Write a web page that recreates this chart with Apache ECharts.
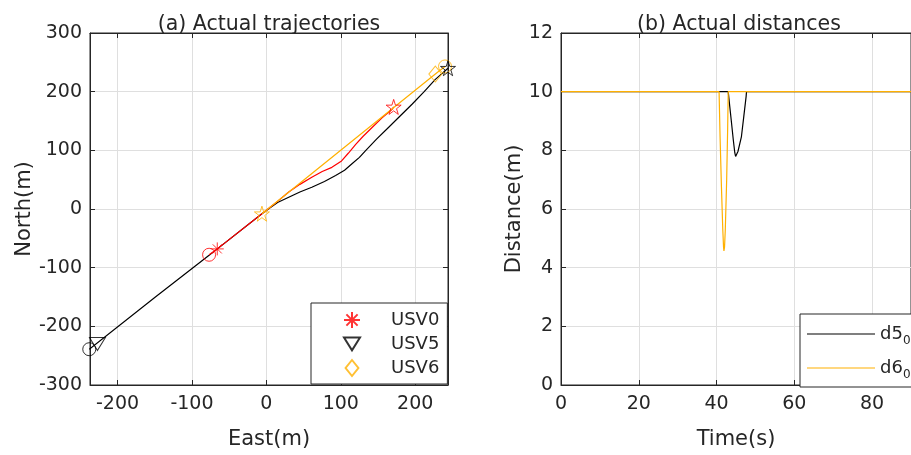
<!DOCTYPE html>
<html>
<head>
<meta charset="utf-8">
<script src="https://cdn.jsdelivr.net/npm/echarts@6/dist/echarts.min.js"></script>
<style>
  html, body { margin: 0; padding: 0; background: #fff; }
  #main { width: 911px; height: 455px; }
</style>
</head>
<body>
<div id="main"></div>
<script>
// (a) trajectories, points are [East, North] in m
var path5 = [[-238,-239],[-150,-151],[-77,-79],[-6,-8],[5,2],[15,11],[30,20],[45,29],[61,37],[78,47],[93,57],[105,66],[115,77],[125,88],[133,99],[148,119],[164,139],[180,159],[196,179],[212,200],[227,221],[244,240]];
var path0 = [[-77,-78],[-66,-68],[-6,-8],[5,3],[15,13],[30,29],[45,42],[61,54],[75,64],[88,71],[101,82],[110,95],[120,110],[130,124],[142,139],[155,155],[169,170],[171,174]];
var path6 = [[240,243],[227,230],[-6,-8]];

var startPts = { USV0: [-77,-78], USV5: [-238,-239], USV6: [240,243] };
var endPts   = { USV0: [171,174], USV5: [244,240], USV6: [-6,-8] };
var markPts  = { USV0: [-66,-68], USV5: [-227,-230], USV6: [227,230] };

// (b) distances
var t5 = [0, 40.7, 43.0, 43.4, 43.85, 44.3, 44.7, 44.9, 45.2, 45.5, 46.4, 47.0, 47.6, 47.7, 90];
var d5 = [10, 10, 10, 9.49, 8.93, 8.36, 7.91, 7.79, 7.84, 7.96, 8.47, 9.15, 9.83, 10, 10];
var t6 = [0, 40.65, 40.9, 41.25, 41.6, 41.8, 41.9, 42.05, 42.25, 42.6, 42.85, 43.0, 90];
var d6 = [10, 10, 8.48, 6.78, 5.3, 4.7, 4.57, 4.7, 5.3, 7.0, 8.7, 10, 10];

var colors = { USV0: '#ff0000', USV5: '#000000', USV6: '#ffb000' };
var ink = '#262626';
var gridCol = '#dfdfdf';
var font = 'DejaVu Sans';

var starPath = 'path://M0,-1L0.2245,-0.309L0.951,-0.309L0.363,0.118L0.588,0.809L0,0.382L-0.588,0.809L-0.363,0.118L-0.951,-0.309L-0.2245,-0.309Z';
var asteriskPath = 'path://M0,-1L0,1M-1,0L1,0M-0.7,-0.7L0.7,0.7M-0.7,0.7L0.7,-0.7';
var triDownPath = 'path://M-1,-0.8L1,-0.8L0,0.8Z';
var diamondPath = 'path://M0,-1L0.8,0L0,1L-0.8,0Z';

function zip(a, b) {
  return a.map(function (v, i) { return [v, b[i]]; });
}

function hollow(c) {
  return { color: 'rgba(0,0,0,0)', borderColor: c, borderWidth: 1 };
}

function mainAxis(grid, min, max, interval, name, gap) {
  var ax = {
    type: 'value', gridIndex: grid, min: min, max: max,
    name: name, nameLocation: 'middle', nameGap: gap,
    nameTextStyle: { color: ink, fontSize: 21, fontFamily: font },
    axisLine: { show: true, onZero: false, lineStyle: { color: ink, width: 1 } },
    axisTick: { show: true, inside: true, length: 5, lineStyle: { color: ink } },
    axisLabel: { color: ink, fontSize: 19, fontFamily: font, margin: 10, showMinLabel: false, showMaxLabel: false },
    splitLine: { show: true, lineStyle: { color: gridCol, width: 1 } }
  };
  if (interval) ax.interval = interval;
  return ax;
}

function mirror(grid, pos, min, max, interval) {
  var ax = {
    type: 'value', gridIndex: grid, position: pos, min: min, max: max,
    axisLine: { show: true, onZero: false, lineStyle: { color: ink, width: 1 } },
    axisTick: { show: true, inside: true, length: 5, lineStyle: { color: ink } },
    axisLabel: { show: false },
    splitLine: { show: false }
  };
  if (interval) ax.interval = interval;
  return ax;
}

var leftX = mainAxis(0, -237, 244, null, 'East(m)', 44);
var leftY = mainAxis(0, -300, 300, 100, 'North(m)', 50);
leftY.axisLabel.showMinLabel = true;
leftY.axisLabel.showMaxLabel = true;
leftY.axisLabel.margin = 8;
var rightY = mainAxis(1, 0, 12, 2, 'Distance(m)', 34);
rightY.axisLabel.showMinLabel = true;
rightY.axisLabel.showMaxLabel = true;
rightY.axisLabel.margin = 8;
var rightX = mainAxis(1, 0, 90, 20, 'Time(s)', 44);
rightX.axisLabel.showMinLabel = true;

var series = [];
// trajectory lines: black, red, orange (orange on top)
[['USV5', path5], ['USV0', path0], ['USV6', path6]].forEach(function (p) {
  series.push({
    type: 'line', name: p[0] + ' path', xAxisIndex: 0, yAxisIndex: 0,
    data: p[1], symbol: 'none', lineStyle: { color: colors[p[0]], width: 1.2 },
    silent: true, z: 2
  });
});
['USV0', 'USV5', 'USV6'].forEach(function (k) {
  series.push({
    type: 'scatter', name: k + ' start', xAxisIndex: 0, yAxisIndex: 0, clip: false,
    data: [startPts[k]], symbol: 'circle', symbolSize: 13, itemStyle: hollow(colors[k]), z: 3
  });
});
['USV0', 'USV6', 'USV5'].forEach(function (k) {
  series.push({
    type: 'scatter', name: k + ' end', xAxisIndex: 0, yAxisIndex: 0, clip: false,
    data: [endPts[k]], symbol: starPath, symbolSize: 15, itemStyle: hollow(colors[k]), z: 4
  });
});
series.push({
  type: 'scatter', name: 'USV0', xAxisIndex: 0, yAxisIndex: 0, clip: false,
  data: [markPts.USV0], symbol: asteriskPath, symbolSize: 13, itemStyle: hollow(colors.USV0), z: 5
});
series.push({
  type: 'scatter', name: 'USV5', xAxisIndex: 0, yAxisIndex: 0, clip: false,
  data: [markPts.USV5], symbol: triDownPath, symbolSize: [16, 13], itemStyle: hollow(colors.USV5), z: 5
});
series.push({
  type: 'scatter', name: 'USV6', xAxisIndex: 0, yAxisIndex: 0, clip: false,
  data: [markPts.USV6], symbol: diamondPath, symbolSize: [13, 16], itemStyle: hollow(colors.USV6), z: 5
});
// distances
series.push({
  type: 'line', name: 'd5_0', xAxisIndex: 1, yAxisIndex: 1, data: zip(t5, d5),
  symbol: 'none', itemStyle: { color: '#000000' }, lineStyle: { color: '#000000', width: 1.2 }, z: 2
});
series.push({
  type: 'line', name: 'd6_0', xAxisIndex: 1, yAxisIndex: 1, data: zip(t6, d6),
  symbol: 'none', itemStyle: { color: colors.USV6 }, lineStyle: { color: colors.USV6, width: 1.2 }, z: 3
});

var chart = echarts.init(document.getElementById('main'), null, { renderer: 'canvas' });
chart.setOption({
  animation: false,
  backgroundColor: '#ffffff',
  title: [
    { text: '(a) Actual trajectories', left: 269, top: 14, textAlign: 'center', padding: 0,
      textStyle: { color: ink, fontSize: 20.5, fontWeight: 'normal', fontFamily: font } },
    { text: '(b) Actual distances', left: 739, top: 14, textAlign: 'center', padding: 0,
      textStyle: { color: ink, fontSize: 20.5, fontWeight: 'normal', fontFamily: font } }
  ],
  grid: [
    { left: 90, top: 33, width: 358, height: 353, show: true, borderColor: ink, borderWidth: 1, backgroundColor: '#fff' },
    { left: 561, top: 33, width: 357, height: 353, show: true, borderColor: ink, borderWidth: 1, backgroundColor: '#fff' }
  ],
  xAxis: [
    leftX,
    rightX,
    mirror(0, 'top', -237, 244, null),
    mirror(1, 'top', 0, 90, 20)
  ],
  yAxis: [
    leftY,
    rightY,
    mirror(0, 'right', -300, 300, 100)
  ],
  legend: [
    {
      data: ['USV0', 'USV5', 'USV6'], orient: 'vertical', left: 311, top: 303,
      padding: [7, 8, 6, 32], itemWidth: 16, itemHeight: 16, itemGap: 4,
      symbolKeepAspect: true,
      borderColor: ink, borderWidth: 1, backgroundColor: '#fff', selectedMode: false,
      textStyle: { color: ink, fontSize: 18, lineHeight: 20, fontFamily: font, padding: [0, 0, 0, 26] }
    },
    {
      data: ['d5_0', 'd6_0'], orient: 'vertical', left: 800, top: 314,
      padding: [11, 8, 6, 7], itemWidth: 68, itemHeight: 1, itemGap: 12, icon: 'rect',
      borderColor: ink, borderWidth: 1, backgroundColor: '#fff', selectedMode: false,
      formatter: function (name) {
        var p = name.split('_');
        return '{a|' + p[0] + '}{s|' + p[1] + '}';
      },
      textStyle: {
        color: ink, fontFamily: font,
        rich: {
          a: { fontSize: 18, lineHeight: 26, verticalAlign: 'middle', color: ink, fontFamily: font },
          s: { fontSize: 12, lineHeight: 12, verticalAlign: 'bottom', color: ink, fontFamily: font }
        }
      }
    }
  ],
  series: series
});
</script>
</body>
</html>
